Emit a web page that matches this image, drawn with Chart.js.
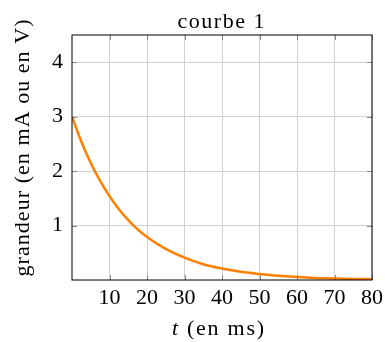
<!DOCTYPE html>
<html>
<head>
<meta charset="utf-8">
<script src="https://cdn.jsdelivr.net/npm/chart.js@4"></script>
<style>
  body { margin: 0; background: #fff; }
  #wrap { width: 385px; height: 342px; }
</style>
</head>
<body>
<div id="wrap"><canvas id="c"></canvas></div>
<script>
// values (t in ms, grandeur)
const temps = [0, 2.5, 5, 7.5, 10, 12.5, 15, 17.5, 20, 25, 30, 35, 40, 45, 50, 55, 60, 65, 70, 75, 80];
const grandeur = [3.0, 2.54, 2.15, 1.82, 1.54, 1.30, 1.10, 0.93, 0.79, 0.57, 0.41, 0.29, 0.21, 0.15, 0.11, 0.077, 0.055, 0.039, 0.028, 0.02, 0.015];
const xTicks = [10, 20, 30, 40, 50, 60, 70, 80];
const yTicks = [1, 2, 3, 4];

const titre = 'courbe 1';
const xTitre = ['t', ' (en ms)'];
const yTitre = 'grandeur (en mA ou en V)';

const serif = "'Liberation Serif', 'DejaVu Serif', serif";

// draw a list of [text, font] runs centred at (0,0), spread to a given width
function runs(ctx, parts, width) {
  let n = 0, w = 0;
  parts.forEach(p => { ctx.font = p[1]; w += ctx.measureText(p[0]).width; n += p[0].length; });
  const sp = Math.max(0, (width - w) / (n - 1));
  ctx.letterSpacing = sp + 'px';
  let x = -width / 2;
  parts.forEach(p => {
    ctx.font = p[1];
    ctx.fillText(p[0], x, 0);
    x += ctx.measureText(p[0]).width;
  });
  ctx.letterSpacing = '0px';
}

// inner tick marks, frame and titles, like pgfplots
const frame = {
  id: 'frame',
  afterDraw(chart) {
    const ctx = chart.ctx, a = chart.chartArea;
    const xs = chart.scales.x, ys = chart.scales.y;
    ctx.save();
    ctx.strokeStyle = '#888';
    ctx.lineWidth = 1;
    xTicks.forEach(v => {
      const px = Math.round(xs.getPixelForValue(v)) + 0.5;
      ctx.beginPath();
      ctx.moveTo(px, a.bottom); ctx.lineTo(px, a.bottom - 5);
      ctx.moveTo(px, a.top); ctx.lineTo(px, a.top + 5);
      ctx.stroke();
    });
    yTicks.forEach(v => {
      const py = Math.round(ys.getPixelForValue(v)) + 0.5;
      ctx.beginPath();
      ctx.moveTo(a.left, py); ctx.lineTo(a.left + 5, py);
      ctx.moveTo(a.right, py); ctx.lineTo(a.right - 5, py);
      ctx.stroke();
    });
    ctx.strokeStyle = '#000';
    ctx.strokeRect(a.left, a.top, a.right - a.left, a.bottom - a.top);

    const cx = (a.left + a.right) / 2;
    ctx.fillStyle = '#000';
    ctx.textBaseline = 'alphabetic';
    ctx.textAlign = 'left';
    const f = '22px ' + serif, fi = 'italic 22px ' + serif;

    ctx.save();
    ctx.translate(cx - 1, 28);
    runs(ctx, [[titre, f]], 87);
    ctx.restore();

    ctx.save();
    ctx.translate(cx - 4, 335);
    runs(ctx, [[xTitre[0], fi], [xTitre[1], f]], 92);
    ctx.restore();

    ctx.save();
    ctx.translate(29, 148);
    ctx.rotate(-Math.PI / 2);
    runs(ctx, [[yTitre, f]], 257);
    ctx.restore();

    ctx.restore();
  }
};

new Chart('c', {
  type: 'line',
  data: {
    datasets: [{
      data: temps.map((t, i) => ({ x: t, y: grandeur[i] })),
      borderColor: '#ff7f00',
      borderWidth: 2.5,
      pointRadius: 0,
      cubicInterpolationMode: 'monotone',
      fill: false
    }]
  },
  options: {
    responsive: true,
    maintainAspectRatio: false,
    animation: false,
    layout: { padding: { left: 0, right: 13, top: 35, bottom: 0 } },
    plugins: {
      legend: { display: false },
      tooltip: { enabled: false },
      title: { display: false }
    },
    scales: {
      x: {
        type: 'linear',
        min: 0, max: 80,
        afterBuildTicks: s => { s.ticks = xTicks.map(v => ({ value: v })); },
        afterFit: s => { s.height = 62; s.paddingLeft = 0; s.paddingRight = 0; },
        ticks: { color: '#000', font: { family: serif, size: 22 }, maxRotation: 0, padding: 5 },
        grid: { color: '#d0d0d0', drawTicks: false },
        border: { display: false }
      },
      y: {
        min: 0, max: 4.5,
        afterBuildTicks: s => { s.ticks = yTicks.map(v => ({ value: v })); },
        afterFit: s => { s.width = 72; s.paddingTop = 0; s.paddingBottom = 0; },
        ticks: { color: '#000', font: { family: serif, size: 22 }, padding: 9 },
        grid: { color: '#d0d0d0', drawTicks: false },
        border: { display: false }
      }
    }
  },
  plugins: [frame]
});
</script>
</body>
</html>
